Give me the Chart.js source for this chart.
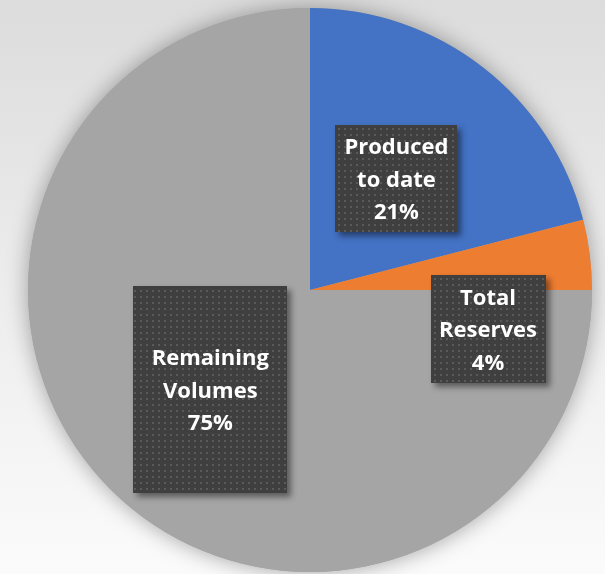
<!DOCTYPE html>
<html>
<head>
<meta charset="utf-8">
<script src="https://cdn.jsdelivr.net/npm/chart.js@4"></script>
<style>
  html, body { margin: 0; padding: 0; }
  body { width: 605px; height: 574px; overflow: hidden; }
  #pie { display: block; background: linear-gradient(180deg, #dcdcdc 0%, #ebebeb 45%, #fbfbfb 100%); }
</style>
</head>
<body>
<canvas id="pie" width="605" height="574"></canvas>
<script>
// data
const categories = ['Produced to date', 'Total Reserves', 'Remaining Volumes'];
const labelLines = [['Produced', 'to date'], ['Total', 'Reserves'], ['Remaining', 'Volumes']];
const shares = [21, 4, 75];
const sliceColors = ['#4472C4', '#ED7D31', '#A5A5A5'];

// label boxes: size, and where they sit (fraction of radius along slice middle,
// or a fixed nudge from the pie centre for the small slice)
const boxStyle = [
  { w: 122, h: 107, r: 0.5 },
  { w: 115, h: 108, fixed: [178, 39] },
  { w: 154, h: 207, r: 0.5 }
];

// dotted fill for the label boxes
function dotPattern(ctx) {
  const t = document.createElement('canvas');
  t.width = 6; t.height = 6;
  const c = t.getContext('2d');
  c.fillStyle = '#3f3f3f';
  c.fillRect(0, 0, 6, 6);
  c.fillStyle = '#5a5a5a';
  c.fillRect(2, 2, 2, 2);
  return ctx.createPattern(t, 'repeat');
}

const pieShadow = {
  id: 'pieShadow',
  beforeDatasetsDraw(chart) {
    const arc = chart.getDatasetMeta(0).data[0];
    if (!arc) return;
    const ctx = chart.ctx;
    ctx.save();
    ctx.shadowColor = 'rgba(0,0,0,0.35)';
    ctx.shadowBlur = 22;
    ctx.fillStyle = '#a5a5a5';
    ctx.beginPath();
    ctx.arc(arc.x, arc.y, arc.outerRadius, 0, Math.PI * 2);
    ctx.fill();
    ctx.restore();
  }
};

const boxLabels = {
  id: 'boxLabels',
  afterDatasetsDraw(chart) {
    const ctx = chart.ctx;
    const meta = chart.getDatasetMeta(0);
    const pat = dotPattern(ctx);
    meta.data.forEach((arc, i) => {
      const s = boxStyle[i];
      const mid = (arc.startAngle + arc.endAngle) / 2;
      let cx, cy;
      if (s.fixed) { cx = arc.x + s.fixed[0]; cy = arc.y + s.fixed[1]; }
      else {
        cx = arc.x + Math.cos(mid) * arc.outerRadius * s.r;
        cy = arc.y + Math.sin(mid) * arc.outerRadius * s.r;
      }
      const x0 = Math.round(cx - s.w / 2), y0 = Math.round(cy - s.h / 2);

      ctx.save();
      ctx.shadowColor = 'rgba(0,0,0,0.45)';
      ctx.shadowBlur = 6;
      ctx.shadowOffsetX = 4;
      ctx.shadowOffsetY = 4;
      ctx.fillStyle = '#3f3f3f';
      ctx.fillRect(x0, y0, s.w, s.h);
      ctx.restore();

      ctx.save();
      ctx.fillStyle = pat;
      ctx.fillRect(x0, y0, s.w, s.h);
      const lines = labelLines[i].concat([shares[i] + '%']);
      ctx.fillStyle = '#ffffff';
      ctx.font = 'bold 22px "Open Sans", Lato, sans-serif';
      ctx.textAlign = 'center';
      ctx.textBaseline = 'middle';
      const lh = 32.5;
      lines.forEach((t, k) => {
        ctx.fillText(t, cx, cy + 2 + (k - (lines.length - 1) / 2) * lh);
      });
      ctx.restore();
    });
  }
};

new Chart(document.getElementById('pie'), {
  type: 'pie',
  data: {
    labels: categories,
    datasets: [{ data: shares, backgroundColor: sliceColors, borderWidth: 0, hoverOffset: 0 }]
  },
  options: {
    responsive: false,
    animation: false,
    layout: { padding: { left: 28, right: 13, top: 8, bottom: 2 } },
    plugins: { legend: { display: false }, tooltip: { enabled: false } }
  },
  plugins: [pieShadow, boxLabels]
});
</script>
</body>
</html>
